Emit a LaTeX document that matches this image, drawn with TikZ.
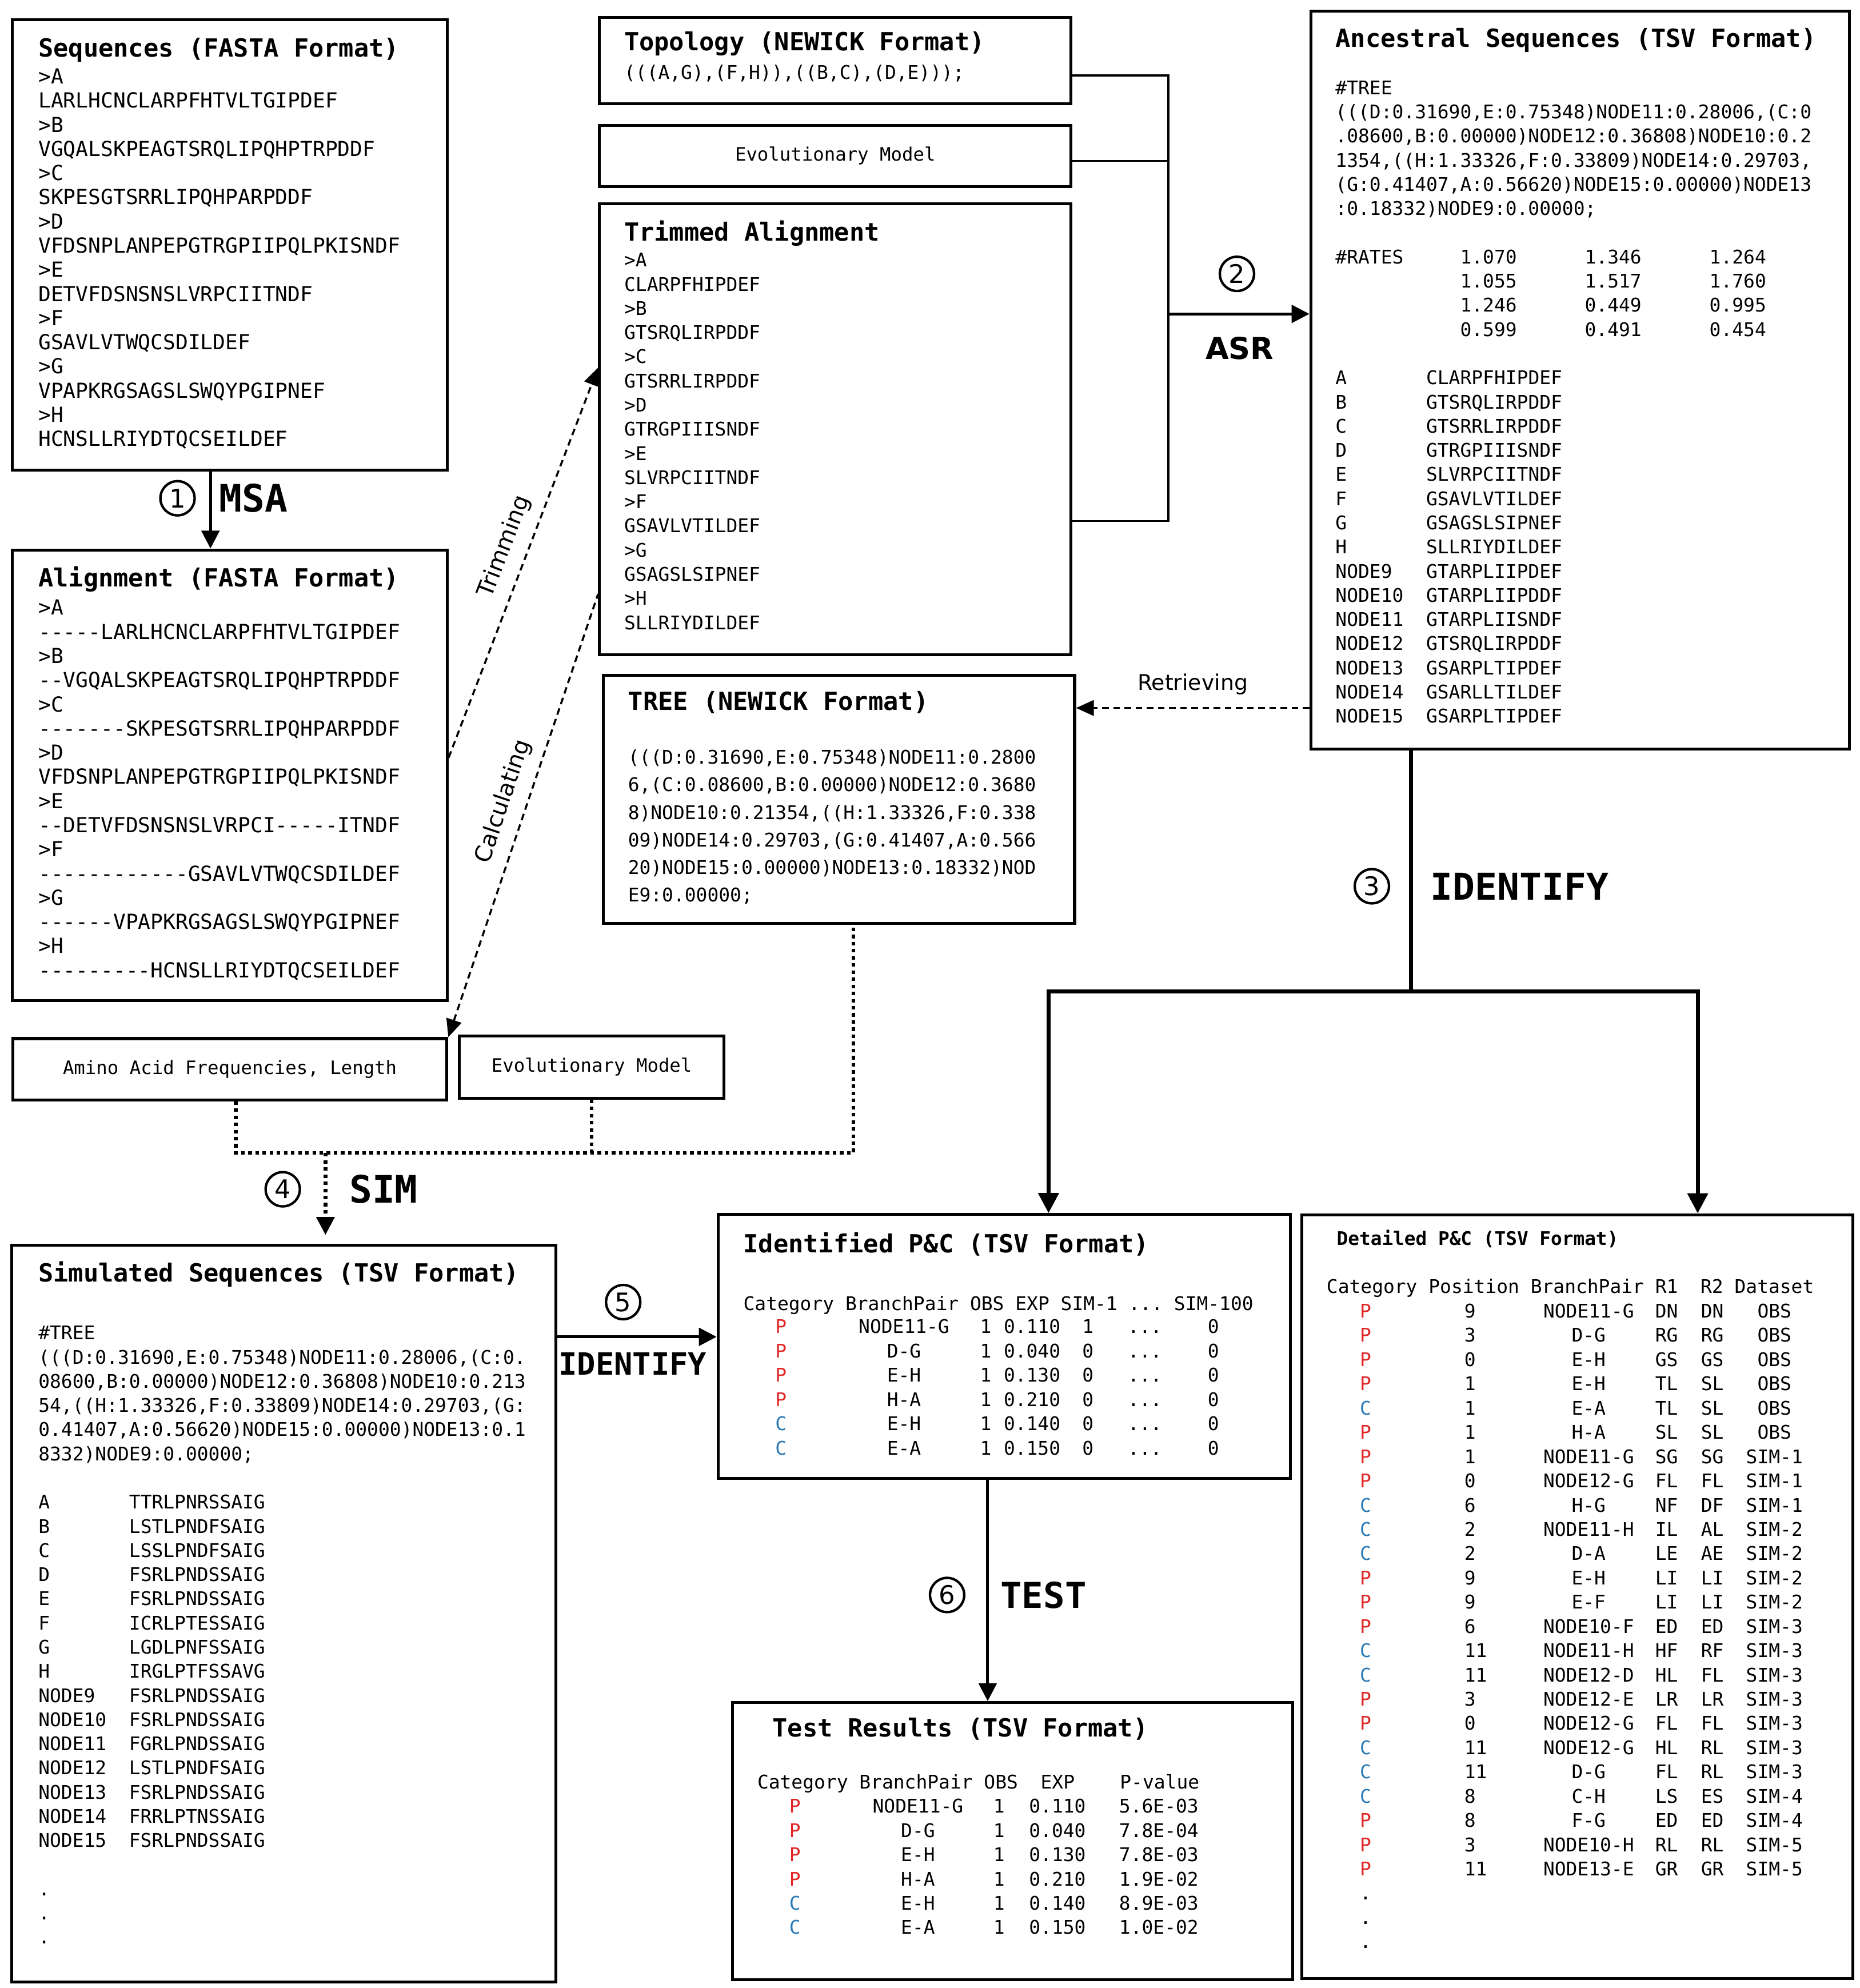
\documentclass[tikz,border=0pt]{standalone}
\usepackage{fontspec}
\setmainfont{DejaVu Sans}
\setsansfont{DejaVu Sans}
\setmonofont{DejaVu Sans Mono}
\usetikzlibrary{arrows.meta}
\definecolor{catP}{RGB}{226,38,38}
\definecolor{catC}{RGB}{40,120,180}
\newdimen\pxu \pxu=0.02cm
\newcommand\fld[2]{\makebox[#1\fontcharwd\font`0][l]{#2}}

\begin{document}
\begin{tikzpicture}[x=0.02cm, y=-0.02cm,
    frame/.style={draw, line width=1.3pt, inner sep=0pt, anchor=north west},
    boxlbl/.style={font=\ttfamily\fontsize{8.3}{10}\selectfont},
    head/.style={font=\ttfamily\bfseries\fontsize{11.2}{13}\selectfont, inner sep=0pt, anchor=base west},
    seqtxt/.style={font=\ttfamily\fontsize{9.3}{10.85}\selectfont, align=left, inner sep=0pt, anchor=base west},
    tsvtxt/.style={font=\ttfamily\fontsize{8.45}{10.85}\selectfont, align=left, inner sep=0pt, anchor=base west},
    cell/.style={font=\ttfamily\fontsize{8.45}{10}\selectfont, inner sep=0pt, anchor=base},
    numc/.style={circle, draw, line width=1.1pt, inner sep=0pt, minimum size=27\pxu, font=\sffamily\fontsize{11.5}{12}\selectfont},
    steplbl/.style={font=\ttfamily\bfseries\fontsize{17}{20}\selectfont, inner sep=0pt},
    flow/.style={line width=1.3pt, -{Triangle[length=8pt,width=8pt]}},
    feed/.style={line width=0.9pt},
    main/.style={line width=1.8pt, -{Triangle[length=9pt,width=9pt]}},
    hint/.style={line width=0.9pt, dash pattern=on 3pt off 2pt},
    dots/.style={line width=1.6pt, dash pattern=on 1.6pt off 1.6pt},
    slant/.style={font=\sffamily\fontsize{10.3}{12}\selectfont, sloped, above=3pt, inner sep=2pt},
  ]
  \useasboundingbox (0,0) rectangle (1467,1568);

  % Boxes
  \node[frame, minimum width=342.9\pxu, minimum height=355.3\pxu] (seqs) at (8.7,14.3) {};
  \node[frame, minimum width=342.9\pxu, minimum height=355.5\pxu] (aln) at (8.7,432.6) {};
  \node[frame, minimum width=371.9\pxu, minimum height=68\pxu] (topo) at (471.7,12.7) {};
  \node[frame, boxlbl, minimum width=371.9\pxu, minimum height=48.4\pxu] (evo) at (471.7,97.7) {Evolutionary Model};
  \node[frame, minimum width=371.9\pxu, minimum height=355.9\pxu] (trim) at (471.7,159.4) {};
  \node[frame, minimum width=425\pxu, minimum height=581.9\pxu] (anc) at (1032.7,7.6) {};
  \node[frame, minimum width=371.8\pxu, minimum height=195.6\pxu] (tree) at (474.6,531.7) {};
  \node[frame, boxlbl, minimum width=342.3\pxu, minimum height=48.3\pxu] (amino) at (9,818) {Amino Acid Frequencies, Length};
  \node[frame, boxlbl, minimum width=208.7\pxu, minimum height=49\pxu] (evo2) at (361.2,816) {Evolutionary Model};
  \node[frame, minimum width=429.1\pxu, minimum height=581\pxu] (sims) at (8.1,981) {};
  \node[frame, minimum width=451.5\pxu, minimum height=208.2\pxu] (idp) at (565.2,956.8) {};
  \node[frame, minimum width=434.9\pxu, minimum height=602.3\pxu] (det) at (1025.5,957) {};
  \node[frame, minimum width=442.2\pxu, minimum height=218.7\pxu] (test) at (576.4,1341.7) {};

  % Sequences and alignment (base = last line)
  \node[head] (seqs-t) at (30,45) {Sequences (FASTA Format)};
  \node[seqtxt] (seqs-b) at (30,352) {>A\\LARLHCNCLARPFHTVLTGIPDEF\\>B\\VGQALSKPEAGTSRQLIPQHPTRPDDF\\
    >C\\SKPESGTSRRLIPQHPARPDDF\\>D\\VFDSNPLANPEPGTRGPIIPQLPKISNDF\\>E\\DETVFDSNSNSLVRPCIITNDF\\
    >F\\GSAVLVTWQCSDILDEF\\>G\\VPAPKRGSAGSLSWQYPGIPNEF\\>H\\HCNSLLRIYDTQCSEILDEF};
  \node[head] (aln-t) at (30,463) {Alignment (FASTA Format)};
  \node[seqtxt] (aln-b) at (30,771) {>A\\-----LARLHCNCLARPFHTVLTGIPDEF\\>B\\--VGQALSKPEAGTSRQLIPQHPTRPDDF\\
    >C\\-------SKPESGTSRRLIPQHPARPDDF\\>D\\VFDSNPLANPEPGTRGPIIPQLPKISNDF\\>E\\--DETVFDSNSNSLVRPCI-----ITNDF\\
    >F\\------------GSAVLVTWQCSDILDEF\\>G\\------VPAPKRGSAGSLSWQYPGIPNEF\\>H\\---------HCNSLLRIYDTQCSEILDEF};

  % Inputs of ASR
  \node[head] (topo-t) at (492,40) {Topology (NEWICK Format)};
  \node[tsvtxt] (topo-b) at (492,62.4) {(((A,G),(F,H)),((B,C),(D,E)));};
  \node[head] (trim-t) at (492,190) {Trimmed Alignment};
  \node[tsvtxt] (trim-b) at (492,496.4) {>A\\CLARPFHIPDEF\\>B\\GTSRQLIRPDDF\\>C\\GTSRRLIRPDDF\\>D\\GTRGPIIISNDF\\
    >E\\SLVRPCIITNDF\\>F\\GSAVLVTILDEF\\>G\\GSAGSLSIPNEF\\>H\\SLLRIYDILDEF};

  % Ancestral sequences
  \node[head] (anc-t) at (1053,37) {Ancestral Sequences (TSV Format)};
  \node[tsvtxt] (anc-b) at (1053,570.2) {\#TREE\\
    (((D:0.31690,E:0.75348)NODE11:0.28006,(C:0\\
    .08600,B:0.00000)NODE12:0.36808)NODE10:0.2\\
    1354,((H:1.33326,F:0.33809)NODE14:0.29703,\\
    (G:0.41407,A:0.56620)NODE15:0.00000)NODE13\\
    :0.18332)NODE9:0.00000;\\[10.85pt]
    \fld{11}{\#RATES}\fld{11}{1.070}\fld{11}{1.346}1.264\\
    \fld{11}{}\fld{11}{1.055}\fld{11}{1.517}1.760\\
    \fld{11}{}\fld{11}{1.246}\fld{11}{0.449}0.995\\
    \fld{11}{}\fld{11}{0.599}\fld{11}{0.491}0.454\\[10.85pt]
    \fld8{A}CLARPFHIPDEF\\\fld8{B}GTSRQLIRPDDF\\\fld8{C}GTSRRLIRPDDF\\\fld8{D}GTRGPIIISNDF\\
    \fld8{E}SLVRPCIITNDF\\\fld8{F}GSAVLVTILDEF\\\fld8{G}GSAGSLSIPNEF\\\fld8{H}SLLRIYDILDEF\\
    \fld8{NODE9}GTARPLIIPDEF\\\fld8{NODE10}GTARPLIIPDDF\\\fld8{NODE11}GTARPLIISNDF\\
    \fld8{NODE12}GTSRQLIRPDDF\\\fld8{NODE13}GSARPLTIPDEF\\\fld8{NODE14}GSARLLTILDEF\\
    \fld8{NODE15}GSARPLTIPDEF};

  % Tree
  \node[head] (tree-t) at (495,560) {TREE (NEWICK Format)};
  \node[tsvtxt, font=\ttfamily\fontsize{8.45}{12.4}\selectfont] (tree-b) at (495,711.4)
    {(((D:0.31690,E:0.75348)NODE11:0.2800\\6,(C:0.08600,B:0.00000)NODE12:0.3680\\
    8)NODE10:0.21354,((H:1.33326,F:0.338\\09)NODE14:0.29703,(G:0.41407,A:0.566\\
    20)NODE15:0.00000)NODE13:0.18332)NOD\\E9:0.00000;};

  % Simulated sequences
  \node[head] (sims-t) at (30,1011) {Simulated Sequences (TSV Format)};
  \node[tsvtxt] (sims-b) at (30,1533.2) {\#TREE\\
    (((D:0.31690,E:0.75348)NODE11:0.28006,(C:0.\\
    08600,B:0.00000)NODE12:0.36808)NODE10:0.213\\
    54,((H:1.33326,F:0.33809)NODE14:0.29703,(G:\\
    0.41407,A:0.56620)NODE15:0.00000)NODE13:0.1\\
    8332)NODE9:0.00000;\\[10.85pt]
    \fld8{A}TTRLPNRSSAIG\\\fld8{B}LSTLPNDFSAIG\\\fld8{C}LSSLPNDFSAIG\\\fld8{D}FSRLPNDSSAIG\\
    \fld8{E}FSRLPNDSSAIG\\\fld8{F}ICRLPTESSAIG\\\fld8{G}LGDLPNFSSAIG\\\fld8{H}IRGLPTFSSAVG\\
    \fld8{NODE9}FSRLPNDSSAIG\\\fld8{NODE10}FSRLPNDSSAIG\\\fld8{NODE11}FGRLPNDSSAIG\\
    \fld8{NODE12}LSTLPNDFSAIG\\\fld8{NODE13}FSRLPNDSSAIG\\\fld8{NODE14}FRRLPTNSSAIG\\
    \fld8{NODE15}FSRLPNDSSAIG\\[10.85pt]
    .\\.\\.};

  % Identified P&C
  \node[head] (idp-t) at (586,988) {Identified P\&C (TSV Format)};
  \node[tsvtxt] (idp-h) at (586,1033.7) {Category BranchPair OBS EXP SIM-1 ... SIM-100};
  \foreach \kat/\bpair/\expv/\simv [count=\i from 0] in {P/NODE11-G/0.110/1, P/D-G/0.040/0,
      P/E-H/0.130/0, P/H-A/0.210/0, C/E-H/0.140/0, C/E-A/0.150/0} {
    \pgfmathsetmacro\yy{1051.7+19.14*\i}
    \node[cell, text=cat\kat] (idp-c\i) at (616,\yy) {\kat};
    \node[cell] (idp-p\i) at (713,\yy) {\bpair};
    \node[cell] (idp-o\i) at (777.5,\yy) {1};
    \node[cell] (idp-e\i) at (814,\yy) {\expv};
    \node[cell] (idp-s\i) at (858,\yy) {\simv};
    \node[cell] (idp-d\i) at (903,\yy) {...};
    \node[cell] (idp-z\i) at (957,\yy) {0};
  }

  % Test results
  \node[head] (test-t) at (609,1370) {Test Results (TSV Format)};
  \node[tsvtxt] (test-h) at (597,1411)
    {\fld9{Category}\fld{11}{BranchPair}\fld5{OBS}\fld7{EXP}P-value};
  \foreach \kat/\bpair/\expv/\pval [count=\i from 0] in {P/NODE11-G/0.110/5.6E-03,
      P/D-G/0.040/7.8E-04, P/E-H/0.130/7.8E-03, P/H-A/0.210/1.9E-02,
      C/E-H/0.140/8.9E-03, C/E-A/0.150/1.0E-02} {
    \pgfmathsetmacro\yy{1430+19.1*\i}
    \node[cell, text=cat\kat] (test-c\i) at (627,\yy) {\kat};
    \node[cell] (test-p\i) at (724,\yy) {\bpair};
    \node[cell] (test-o\i) at (788,\yy) {1};
    \node[cell] (test-e\i) at (834,\yy) {\expv};
    \node[cell] (test-v\i) at (914,\yy) {\pval};
  }

  % Detailed P&C
  \node[head, font=\ttfamily\bfseries\fontsize{8.4}{10}\selectfont] (det-t) at (1054,982)
    {Detailed P\&C (TSV Format)};
  \node[tsvtxt] (det-h) at (1046,1019.8)
    {\fld9{Category}\fld9{Position}\fld{11}{BranchPair}\fld4{R1}\fld3{R2}Dataset};
  \foreach \kat/\posn/\bpair/\rone/\rtwo/\dset [count=\i from 0] in {
      P/9/NODE11-G/DN/DN/OBS, P/3/D-G/RG/RG/OBS, P/0/E-H/GS/GS/OBS, P/1/E-H/TL/SL/OBS,
      C/1/E-A/TL/SL/OBS, P/1/H-A/SL/SL/OBS, P/1/NODE11-G/SG/SG/SIM-1, P/0/NODE12-G/FL/FL/SIM-1,
      C/6/H-G/NF/DF/SIM-1, C/2/NODE11-H/IL/AL/SIM-2, C/2/D-A/LE/AE/SIM-2, P/9/E-H/LI/LI/SIM-2,
      P/9/E-F/LI/LI/SIM-2, P/6/NODE10-F/ED/ED/SIM-3, C/11/NODE11-H/HF/RF/SIM-3,
      C/11/NODE12-D/HL/FL/SIM-3, P/3/NODE12-E/LR/LR/SIM-3, P/0/NODE12-G/FL/FL/SIM-3,
      C/11/NODE12-G/HL/RL/SIM-3, C/11/D-G/FL/RL/SIM-3, C/8/C-H/LS/ES/SIM-4,
      P/8/F-G/ED/ED/SIM-4, P/3/NODE10-H/RL/RL/SIM-5, P/11/NODE13-E/GR/GR/SIM-5} {
    \pgfmathsetmacro\yy{1039.4+19.13*\i}
    \node[cell, text=cat\kat] (det-c\i) at (1077,\yy) {\kat};
    \node[cell, anchor=base west] (det-n\i) at (1154.6,\yy) {\posn};
    \node[cell] (det-p\i) at (1253,\yy) {\bpair};
    \node[cell] (det-a\i) at (1314.5,\yy) {\rone};
    \node[cell] (det-b\i) at (1350.5,\yy) {\rtwo};
    \node[cell] (det-s\i) at (1399.5,\yy) {\dset};
  }
  \foreach \i in {24,25,26}
    \node[cell] (det-x\i) at (1077,1039.4+19.13*\i) {.};

  % Step labels
  \node[numc] (s1) at (140,393) {1};
  \node[steplbl] (l1) at (200,393) {MSA};
  \node[numc] (s2) at (975.6,216) {2};
  \node[font=\sffamily\bfseries\fontsize{13.5}{15}\selectfont, inner sep=0pt] (l2) at (977.7,274.5) {ASR};
  \node[numc] (s3) at (1082,699) {3};
  \node[steplbl, font=\ttfamily\bfseries\fontsize{16.6}{20}\selectfont] (l3) at (1198.5,699) {IDENTIFY};
  \node[numc] (s4) at (223,938) {4};
  \node[steplbl] (l4) at (302.5,938) {SIM};
  \node[numc] (s5) at (491.5,1027) {5};
  \node[steplbl, font=\ttfamily\bfseries\fontsize{13.8}{16}\selectfont] (l5) at (499,1075.6) {IDENTIFY};
  \node[numc] (s6) at (747,1258) {6};
  \node[steplbl, font=\ttfamily\bfseries\fontsize{16}{20}\selectfont] (l6) at (823,1258) {TEST};

  % Guides
  \coordinate (mx) at (166,0);
  \coordinate (jt) at (921.5,59.6);
  \coordinate (je) at (921.5,127);
  \coordinate (ja) at (921.5,247.6);
  \coordinate (jb) at (921.5,410.9);
  \coordinate (rt) at (0,558.4);
  \coordinate (ta) at (0,597.5);
  \coordinate (tb) at (0,290);
  \coordinate (tc) at (0,468.5);
  \coordinate (da) at (186,909.4);
  \coordinate (dt) at (673,909.4);
  \coordinate (ds) at (256.7,909.4);
  \coordinate (it) at (1113,782);
  \coordinate (il) at (827,782);
  \coordinate (ir) at (1339,782);
  \coordinate (fy) at (0,1054.4);
  \coordinate (tx) at (779,0);

  % Connectors
  \draw[flow] (seqs.south -| mx) -- (aln.north -| mx);
  \draw[feed] (topo.east |- jt) -- (jt) -- (jb) -- (trim.east |- jb);
  \draw[feed] (evo.east |- je) -- (je);
  \draw[flow] (ja) -- (anc.west |- ja);
  \draw[hint, -{Triangle[length=8pt,width=7pt]}] (anc.west |- rt) -- node[above=5.6pt, inner sep=0pt,
    font=\sffamily\fontsize{9.7}{12}\selectfont] (retr) {Retrieving} (tree.east |- rt);
  \draw[hint, -{Triangle[length=8pt,width=7pt]}] (aln.east |- ta) -- node[slant, pos=0.52] (trm) {Trimming}
    (trim.west |- tb);
  \draw[hint, {Triangle[length=8pt,width=7pt]}-] (amino.north east) -- node[slant, pos=0.515] (calc)
    {Calculating} (trim.west |- tc);
  \draw[dots] (amino.south -| da) -- (da) -- (dt) -- (tree.south -| dt);
  \draw[dots] (evo2.south) -- (evo2.south |- da);
  \draw[dots, -{Triangle[length=8pt,width=8pt]}, shorten >=4pt] (ds) -- (sims.north -| ds);
  \draw[main, -] (anc.south -| it) -- (it);
  \draw[main] (ir) -- (il) -- (idp.north -| il);
  \draw[main] (il) -- (ir) -- (det.north -| ir);
  \draw[flow] (sims.east |- fy) -- (idp.west |- fy);
  \draw[flow] (idp.south -| tx) -- (test.north -| tx);
\end{tikzpicture}
\end{document}
